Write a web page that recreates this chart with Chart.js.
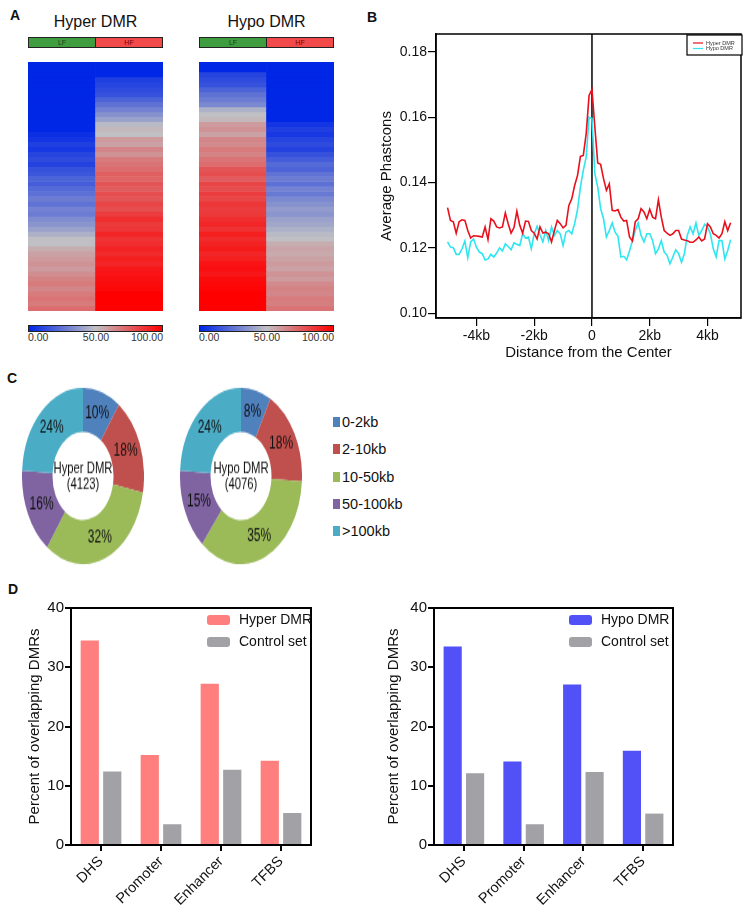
<!DOCTYPE html>
<html>
<head>
<meta charset="utf-8">
<script src="https://cdn.jsdelivr.net/npm/chart.js@4/dist/chart.umd.min.js"></script>
<style>
  body { margin: 0; background: #fff; font-family: "Liberation Sans", Arial, sans-serif; color: #111; }
  #page { position: relative; width: 751px; height: 921px; overflow: hidden; }
  .abs { position: absolute; }
  .panel-label { position: absolute; font-weight: bold; font-size: 14px; line-height: 1; }
  .hm-title { position: absolute; width: 135px; text-align: center; font-size: 16px; line-height: 1; }
  .group-bar { position: absolute; width: 135px; height: 11px; display: flex; box-sizing: border-box; border: 1px solid #222; }
  .group-bar div { flex: 1; font-size: 7px; line-height: 9px; text-align: center; }
  .group-bar .lf { background: #3f9d3f; color: #1d3d1d; border-right: 1px solid #222; }
  .group-bar .hf { background: #f24a4a; color: #7a0000; }
  .colorbar { position: absolute; width: 135px; height: 7px; box-sizing: border-box; border: 1px solid #222; }
  .cb-label { position: absolute; font-size: 10.5px; line-height: 1; color: #333; }
  .donut-wrap { position: absolute; width: 122px; height: 122px; transform: scaleY(1.445); transform-origin: center; }
  .bin-row { position: absolute; left: 333px; height: 20px; display: flex; align-items: center; font-size: 14.5px; white-space: nowrap; }
  .bin-row .swatch { display: inline-block; width: 7px; height: 10px; margin-right: 2px; }
</style>
</head>
<body>
<div id="page">
  <!-- A: heatmaps -->
  <div class="panel-label" style="left:10px;top:8px">A</div>
  <div class="hm-title" style="left:28px;top:14px">Hyper DMR</div>
  <div class="hm-title" style="left:199px;top:14px">Hypo DMR</div>
  <div class="group-bar" style="left:28px;top:37px"><div class="lf">LF</div><div class="hf">HF</div></div>
  <div class="group-bar" style="left:199px;top:37px"><div class="lf">LF</div><div class="hf">HF</div></div>
  <canvas id="heatHyper" class="abs" width="135" height="249" style="left:28px;top:62px"></canvas>
  <canvas id="heatHypo" class="abs" width="135" height="249" style="left:199px;top:62px"></canvas>
  <div class="colorbar" id="cbHyper" style="left:28px;top:325px"></div>
  <div class="colorbar" id="cbHypo" style="left:199px;top:325px"></div>
  <div id="cbLabels"></div>

  <!-- B: phastcons profile -->
  <div class="panel-label" style="left:367px;top:10px">B</div>
  <canvas id="phastcons" class="abs" width="391" height="340" style="left:360px;top:30px"></canvas>

  <!-- C: distance donuts -->
  <div class="panel-label" style="left:7px;top:371px">C</div>
  <div class="donut-wrap" style="left:22px;top:415px"><canvas id="donutHyper" width="122" height="122"></canvas></div>
  <div class="donut-wrap" style="left:180px;top:415px"><canvas id="donutHypo" width="122" height="122"></canvas></div>
  <div id="binLegend"></div>

  <!-- D: overlap bars -->
  <div class="panel-label" style="left:8px;top:582px">D</div>
  <canvas id="overlapHyper" class="abs" width="375" height="331" style="left:0px;top:590px"></canvas>
  <canvas id="overlapHypo" class="abs" width="376" height="331" style="left:375px;top:590px"></canvas>
</div>

<script>
// ---- Panel A: methylation heatmap rows (0-100), top to bottom ----
const heatColumns = ['LF', 'HF'];
const hyperLF = [0, 0, 0, 0, 0, 0, 0, 0, 0, 0, 0, 0, 0, 0, 3, 5, 8, 6, 10, 12, 9, 14,
  16, 20, 18, 22, 24, 28, 25, 30, 28, 33, 36, 40, 45, 50, 50, 55, 58, 60, 62, 60, 63,
  66, 68, 65, 68, 70, 68, 72];
const hyperHF = [0, 0, 0, 8, 10, 12, 14, 20, 25, 30, 35, 40, 48, 52, 50, 60, 58, 65, 62, 68, 70,
  72, 75, 74, 78, 76, 80, 78, 82, 80, 84, 88, 85, 86, 90, 87, 88, 91, 89, 92, 90,
  94, 95, 96, 97, 98, 100, 100, 100, 100];
const hypoLF = [0, 0, 10, 12, 14, 20, 25, 28, 32, 45, 50, 52, 60, 62, 58, 65, 64, 68, 66, 70, 72,
  78, 80, 76, 82, 80, 84, 82, 86, 84, 85, 88, 90, 87, 92, 89, 91, 93, 90, 92,
  95, 96, 94, 97, 98, 99, 100, 100, 100, 100];
const hypoHF = [0, 0, 0, 0, 0, 0, 0, 0, 0, 0, 0, 0, 5, 8, 6, 10, 12, 9, 14,
  18, 22, 20, 25, 28, 24, 30, 27, 32, 35, 38, 36, 40, 42, 45, 48, 50,
  55, 57, 56, 58, 60, 58, 62, 60, 64, 66, 65, 68, 67, 70];
const colorbarTicks = ['0.00', '50.00', '100.00'];

// ---- Panel B: average phastcons around DMR centre ----
const distanceKb = [-5.0, -4.9, -4.8, -4.7, -4.6, -4.5, -4.4, -4.3, -4.2, -4.1,
  -4.0, -3.9, -3.8, -3.7, -3.6, -3.5, -3.4, -3.3, -3.2, -3.1,
  -3.0, -2.9, -2.8, -2.7, -2.6, -2.5, -2.4, -2.3, -2.2, -2.1,
  -2.0, -1.9, -1.8, -1.7, -1.6, -1.5, -1.4, -1.3, -1.2, -1.1,
  -1.0, -0.9, -0.8, -0.7, -0.6, -0.5, -0.4, -0.3, -0.2, -0.1, 0,
  0.1, 0.2, 0.3, 0.4, 0.5, 0.6, 0.7, 0.8, 0.9, 1.0,
  1.1, 1.2, 1.3, 1.4, 1.5, 1.6, 1.7, 1.8, 1.9, 2.0,
  2.1, 2.2, 2.3, 2.4, 2.5, 2.6, 2.7, 2.8, 2.9, 3.0,
  3.1, 3.2, 3.3, 3.4, 3.5, 3.6, 3.7, 3.8, 3.9, 4.0,
  4.1, 4.2, 4.3, 4.4, 4.5, 4.6, 4.7, 4.8];
const hyperPhastcons = [0.1323, 0.1284, 0.1280, 0.1245, 0.1280, 0.1286, 0.1284, 0.1253, 0.1230, 0.1237,
  0.1236, 0.1235, 0.1233, 0.1264, 0.1225, 0.1289, 0.1282, 0.1264, 0.1261, 0.1264,
  0.1307, 0.1274, 0.1245, 0.1262, 0.1312, 0.1269, 0.1245, 0.1282, 0.1281, 0.1253,
  0.1245, 0.1227, 0.1264, 0.1245, 0.1248, 0.1243, 0.1218, 0.1253, 0.1284, 0.1274,
  0.1261, 0.1269, 0.1330, 0.1350, 0.1391, 0.1422, 0.1480, 0.1483, 0.1550, 0.1667, 0.1685,
  0.1570, 0.1460, 0.1456, 0.1412, 0.1376, 0.1396, 0.1315, 0.1313, 0.1317, 0.1294,
  0.1282, 0.1284, 0.1233, 0.1221, 0.1280, 0.1289, 0.1320, 0.1310, 0.1289, 0.1318,
  0.1294, 0.1289, 0.1347, 0.1294, 0.1253, 0.1245, 0.1238, 0.1243, 0.1253, 0.1253,
  0.1227, 0.1224, 0.1222, 0.1217, 0.1217, 0.1224, 0.1233, 0.1221, 0.1227, 0.1274,
  0.1264, 0.1243, 0.1238, 0.1230, 0.1243, 0.1280, 0.1253, 0.1277];
const hypoPhastcons = [0.1218, 0.1202, 0.1200, 0.1180, 0.1180, 0.1197, 0.1221, 0.1170, 0.1218, 0.1227,
  0.1202, 0.1187, 0.1182, 0.1163, 0.1166, 0.1180, 0.1172, 0.1184, 0.1200, 0.1190,
  0.1212, 0.1204, 0.1194, 0.1215, 0.1211, 0.1207, 0.1243, 0.1230, 0.1233, 0.1197,
  0.1243, 0.1266, 0.1240, 0.1218, 0.1253, 0.1222, 0.1264, 0.1238, 0.1253, 0.1243,
  0.1207, 0.1248, 0.1253, 0.1243, 0.1274, 0.1317, 0.1386, 0.1437, 0.1478, 0.1600, 0.1596,
  0.1427, 0.1386, 0.1320, 0.1289, 0.1233, 0.1253, 0.1276, 0.1248, 0.1235, 0.1172,
  0.1174, 0.1163, 0.1190, 0.1222, 0.1253, 0.1276, 0.1238, 0.1218, 0.1243, 0.1243,
  0.1222, 0.1182, 0.1197, 0.1222, 0.1187, 0.1177, 0.1151, 0.1172, 0.1194, 0.1182,
  0.1156, 0.1182, 0.1238, 0.1264, 0.1243, 0.1276, 0.1238, 0.1253, 0.1272, 0.1264,
  0.1243, 0.1197, 0.1172, 0.1222, 0.1222, 0.1166, 0.1192, 0.1225];
const xTickValues = [-4, -2, 0, 2, 4];
const xTickLabels = ['-4kb', '-2kb', '0', '2kb', '4kb'];
const yTickValues = [0.10, 0.12, 0.14, 0.16, 0.18];

// ---- Panel C: distance to nearest gene (%) ----
const distanceBins = ['0-2kb', '2-10kb', '10-50kb', '50-100kb', '>100kb'];
const binColors = ['#4f81bd', '#c0504d', '#9bbb59', '#8064a2', '#4bacc6'];
const hyperBinPct = [10, 18, 32, 16, 24];
const hypoBinPct = [8, 18, 35, 15, 24];
const hyperCenter = ['Hyper DMR', '(4123)'];
const hypoCenter = ['Hypo DMR', '(4076)'];

// ---- Panel D: percent of overlapping DMRs ----
const features = ['DHS', 'Promoter', 'Enhancer', 'TFBS'];
const hyperOverlap = [34.5, 15.2, 27.2, 14.2];
const hyperControl = [12.4, 3.5, 12.7, 5.4];
const hypoOverlap = [33.5, 14.1, 27.1, 15.9];
const hypoControl = [12.1, 3.5, 12.3, 5.3];
const overlapTicks = [0, 10, 20, 30, 40];

const FONT = '"Liberation Sans", Arial, sans-serif';
Chart.defaults.font.family = FONT;
Chart.defaults.color = '#111';
Chart.defaults.animation = false;
Chart.defaults.plugins.legend.display = false;
Chart.defaults.plugins.tooltip.enabled = false;

// blue -> grey -> red colour scale used by the heatmaps
const BLUE = [0, 38, 230], GREY = [192, 192, 196], RED = [255, 0, 0];
const colorFor = (v) => {
    const [a, b, t] = v <= 50 ? [BLUE, GREY, v / 50] : [GREY, RED, (v - 50) / 50];
    const c = a.map((x, i) => Math.round(x + (b[i] - x) * t));
    return `rgb(${c.join(',')})`;
};

// plot frame (box round the chart area)
const frame = {
    id: 'frame',
    afterDatasetsDraw(chart, args, opts) {
        const { ctx, chartArea: { left, top, width, height } } = chart;
        ctx.save();
        ctx.strokeStyle = '#000';
        ctx.lineWidth = opts.width || 1.5;
        ctx.strokeRect(left, top, width, height);
        ctx.restore();
    }
};

const makeHeatmap = (id, lf, hf) => {
    const rows = lf.map((v, i) => ({
        data: [[i, i + 1], [i, i + 1]],
        backgroundColor: [colorFor(v), colorFor(hf[i])],
        borderWidth: 0,
        grouped: false,
        categoryPercentage: 1,
        barPercentage: 1
    }));
    new Chart(document.getElementById(id), {
        type: 'bar',
        data: { labels: heatColumns, datasets: rows },
        options: {
            responsive: false,
            layout: { padding: 0 },
            scales: {
                x: { display: false },
                y: { display: false, min: 0, max: lf.length, reverse: true }
            }
        }
    });
};

makeHeatmap('heatHyper', hyperLF, hyperHF);
makeHeatmap('heatHypo', hypoLF, hypoHF);

// colour bars + labels
const gradient = `linear-gradient(to right, ${colorFor(0)}, ${colorFor(25)}, ${colorFor(50)}, ${colorFor(75)}, ${colorFor(100)})`;
['cbHyper', 'cbHypo'].forEach(id => { document.getElementById(id).style.background = gradient; });
const cbLabels = document.getElementById('cbLabels');
[28, 199].forEach(left => {
    colorbarTicks.forEach((txt, i) => {
        const el = document.createElement('div');
        el.className = 'cb-label';
        el.textContent = txt;
        el.style.top = '332px';
        if (i === 0) el.style.left = left + 'px';
        else if (i === 1) { el.style.left = (left + 68 - 20) + 'px'; el.style.width = '40px'; el.style.textAlign = 'center'; }
        else { el.style.left = (left + 135 - 60) + 'px'; el.style.width = '60px'; el.style.textAlign = 'right'; }
        cbLabels.appendChild(el);
    });
});

// ---- Panel B ----
const centerLine = {
    id: 'centerLine',
    beforeDatasetsDraw(chart) {
        const { ctx, chartArea, scales } = chart;
        const x = scales.x.getPixelForValue(0);
        ctx.save();
        ctx.strokeStyle = '#000';
        ctx.lineWidth = 1.5;
        ctx.beginPath();
        ctx.moveTo(x, chartArea.top);
        ctx.lineTo(x, chartArea.bottom);
        ctx.stroke();
        ctx.restore();
    }
};

const lineLegend = {
    id: 'lineLegend',
    afterDraw(chart) {
        const { ctx, chartArea } = chart;
        const x0 = chartArea.right - 54, y0 = chartArea.top + 1;
        ctx.save();
        ctx.fillStyle = '#fff';
        ctx.fillRect(x0, y0, 55, 20);
        ctx.strokeStyle = '#000';
        ctx.lineWidth = 1.2;
        ctx.strokeRect(x0, y0, 55, 20);
        ctx.font = `5.5px ${FONT}`;
        ctx.textBaseline = 'middle';
        chart.data.datasets.forEach((ds, i) => {
            const y = y0 + 8 + i * 5.5;
            ctx.strokeStyle = ds.borderColor;
            ctx.beginPath();
            ctx.moveTo(x0 + 6, y);
            ctx.lineTo(x0 + 16, y);
            ctx.stroke();
            ctx.fillStyle = '#333';
            ctx.fillText(ds.label, x0 + 19, y);
        });
        ctx.restore();
    }
};

new Chart(document.getElementById('phastcons'), {
    type: 'line',
    data: {
        datasets: [
            { label: 'Hyper DMR', data: distanceKb.map((x, i) => ({ x, y: hyperPhastcons[i] })), borderColor: '#e8101c', borderWidth: 1.6, pointRadius: 0, tension: 0 },
            { label: 'Hypo DMR', data: distanceKb.map((x, i) => ({ x, y: hypoPhastcons[i] })), borderColor: '#2de6f0', borderWidth: 1.6, pointRadius: 0, tension: 0 }
        ]
    },
    options: {
        responsive: false,
        layout: { padding: { left: 0, top: 4, right: 10, bottom: 0 } },
        plugins: { frame: { width: 1.5 } },
        scales: {
            x: {
                type: 'linear', min: -5.4, max: 5.16,
                afterBuildTicks: (s) => { s.ticks = xTickValues.map(value => ({ value })); },
                afterFit: (s) => { s.height = 52; s.paddingLeft = 0; s.paddingRight = 0; },
                ticks: { callback: (v) => xTickLabels[xTickValues.indexOf(v)], font: { size: 14 }, color: '#111', padding: 2, maxRotation: 0 },
                grid: { drawOnChartArea: false, tickLength: 8, color: '#000', lineWidth: 1.2 },
                border: { color: '#000', width: 1.5 },
                title: { display: true, text: 'Distance from the Center', font: { size: 15 }, color: '#111', padding: { top: 0, bottom: 8 } }
            },
            y: {
                min: 0.0985, max: 0.1855,
                afterBuildTicks: (s) => { s.ticks = yTickValues.map(value => ({ value })); },
                afterFit: (s) => { s.width = 76; s.paddingTop = 0; s.paddingBottom = 0; },
                ticks: { callback: (v) => v.toFixed(2), font: { size: 14 }, color: '#111', padding: 1 },
                grid: { drawOnChartArea: false, tickLength: 8, color: '#000', lineWidth: 1.2 },
                border: { color: '#000', width: 1.5 },
                title: { display: true, text: 'Average Phastcons', font: { size: 15 }, color: '#111', padding: { top: 18, bottom: 0 } }
            }
        }
    },
    plugins: [centerLine, frame, lineLegend]
});

// ---- Panel C ----
const donutLabels = {
    id: 'donutLabels',
    afterDatasetsDraw(chart, args, opts) {
        const { ctx } = chart;
        const meta = chart.getDatasetMeta(0);
        const values = chart.data.datasets[0].data;
        ctx.save();
        ctx.fillStyle = '#111';
        ctx.textAlign = 'center';
        ctx.textBaseline = 'middle';
        ctx.font = `12px ${FONT}`;
        meta.data.forEach((arc, i) => {
            const p = arc.tooltipPosition();
            ctx.fillText(`${values[i]}%`, p.x, p.y);
        });
        const { x, y } = meta.data[0];
        ctx.font = `11.3px ${FONT}`;
        opts.lines.forEach((line, i) => ctx.fillText(line, x, y - 5.5 + i * 11.5));
        ctx.restore();
    }
};

const makeDonut = (id, values, centerLines) => new Chart(document.getElementById(id), {
    type: 'doughnut',
    data: { labels: distanceBins, datasets: [{ data: values, backgroundColor: binColors, borderWidth: 0 }] },
    options: {
        responsive: false,
        cutout: '50%',
        layout: { padding: 0 },
        plugins: { donutLabels: { lines: centerLines } }
    },
    plugins: [donutLabels]
});

makeDonut('donutHyper', hyperBinPct, hyperCenter);
makeDonut('donutHypo', hypoBinPct, hypoCenter);

const binLegend = document.getElementById('binLegend');
distanceBins.forEach((bin, i) => {
    const row = document.createElement('div');
    row.className = 'bin-row';
    row.style.top = (412 + i * 27.3) + 'px';
    const sw = document.createElement('span');
    sw.className = 'swatch';
    sw.style.background = binColors[i];
    const txt = document.createElement('span');
    txt.textContent = bin;
    row.append(sw, txt);
    binLegend.appendChild(row);
});

// ---- Panel D ----
const swatchLegend = {
    id: 'swatchLegend',
    afterDraw(chart) {
        const { ctx, chartArea } = chart;
        ctx.save();
        ctx.font = `14px ${FONT}`;
        ctx.textBaseline = 'middle';
        chart.data.datasets.forEach((ds, i) => {
            const x = chartArea.right - 104;
            const y = chartArea.top + 12 + i * 22;
            ctx.fillStyle = ds.backgroundColor;
            ctx.beginPath();
            ctx.roundRect(x, y - 5, 23, 10, 3);
            ctx.fill();
            ctx.fillStyle = '#111';
            ctx.fillText(ds.label, x + 32, y);
        });
        ctx.restore();
    }
};

const makeOverlapChart = (id, label, values, control, color, axisWidth, padRight, titlePad) => new Chart(document.getElementById(id), {
    type: 'bar',
    data: {
        labels: features,
        datasets: [
            { label, data: values, backgroundColor: color, categoryPercentage: 0.75, barPercentage: 0.81 },
            { label: 'Control set', data: control, backgroundColor: '#a1a1a6', categoryPercentage: 0.75, barPercentage: 0.81 }
        ]
    },
    options: {
        responsive: false,
        layout: { padding: { left: 0, top: 18, right: padRight, bottom: 0 } },
        plugins: { frame: { width: 2 } },
        scales: {
            x: {
                afterFit: (s) => { s.height = 76; },
                ticks: { font: { size: 14.5 }, color: '#111', minRotation: 45, maxRotation: 45, autoSkip: false, padding: 2 },
                grid: { offset: false, drawOnChartArea: false, tickLength: 6, color: '#000', lineWidth: 2 },
                border: { color: '#000', width: 2 }
            },
            y: {
                min: 0, max: 40,
                afterBuildTicks: (s) => { s.ticks = overlapTicks.map(value => ({ value })); },
                afterFit: (s) => { s.width = axisWidth; s.paddingTop = 0; s.paddingBottom = 0; },
                ticks: { font: { size: 15 }, color: '#111', padding: 1 },
                grid: { drawOnChartArea: false, tickLength: 6, color: '#000', lineWidth: 2 },
                border: { color: '#000', width: 2 },
                title: { display: true, text: 'Percent of overlapping DMRs', font: { size: 15 }, color: '#111', padding: { top: titlePad, bottom: 0 } }
            }
        }
    },
    plugins: [frame, swatchLegend]
});

makeOverlapChart('overlapHyper', 'Hyper DMR', hyperOverlap, hyperControl, '#ff7e7e', 71, 64, 26);
makeOverlapChart('overlapHypo', 'Hypo DMR', hypoOverlap, hypoControl, '#5151f7', 59, 78, 10);
</script>
</body>
</html>
